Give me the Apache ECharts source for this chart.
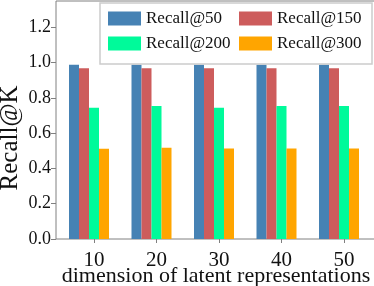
<!DOCTYPE html>
<html><head><meta charset="utf-8">
<script src="https://cdn.jsdelivr.net/npm/echarts@6/dist/echarts.min.js"></script>
<style>html,body{margin:0;padding:0;background:#fff}#c{width:374px;height:286px}</style>
</head><body><div id="c"></div>
<script>
const categories = ['10', '20', '30', '40', '50'];
const seriesNames = ['Recall@50', 'Recall@150', 'Recall@200', 'Recall@300'];
const recall50  = [0.988, 0.988, 0.988, 0.988, 0.988];
const recall150 = [0.968, 0.968, 0.968, 0.968, 0.968];
const recall200 = [0.745, 0.754, 0.745, 0.755, 0.755];
const recall300 = [0.512, 0.518, 0.514, 0.514, 0.514];
const yTicks = [0, 0.2, 0.4, 0.6, 0.8, 1.0, 1.2];
const colors = ['#4682B4', '#CD5C5C', '#00FA9A', '#FFA500'];

const FONT = 'Liberation Serif';
const Y_MAX = 1.35;
const axisGray = '#808080';
const chart = echarts.init(document.getElementById('c'), null, {renderer: 'canvas'});
const values = [recall50, recall150, recall200, recall300];

chart.setOption({
  animation: false,
  textStyle: {fontFamily: FONT},
  grid: [
    {left: 56, top: 1, width: 319, height: 238, show: true, borderColor: axisGray, borderWidth: 1, outerBoundsMode: 'none', containLabel: false},
    {left: 57.75, top: 1, width: 312.5, height: 238, outerBoundsMode: 'none', containLabel: false},
    {left: 62.75, top: 1, width: 312.5, height: 238, outerBoundsMode: 'none', containLabel: false}
  ],
  xAxis: [
    {gridIndex: 0, type: 'value', min: 0, max: 1, show: false},
    {gridIndex: 1, type: 'category', data: categories, show: false},
    {gridIndex: 2, type: 'category', data: categories, position: 'bottom',
     axisLine: {show: true, lineStyle: {color: axisGray, opacity: 0}},
     axisTick: {show: true, alignWithLabel: true, length: 4, lineStyle: {color: axisGray}},
     axisLabel: {fontFamily: FONT, fontSize: 21, color: '#111', margin: 11},
     name: 'dimension of latent representations', nameLocation: 'middle', nameGap: 26,
     nameMoveOverlap: false,
     nameTextStyle: {fontFamily: FONT, fontSize: 22, color: '#111', verticalAlign: 'top', padding: [0, 6, 0, 0]}}
  ],
  yAxis: [
    {gridIndex: 0, type: 'value', min: 0, max: Y_MAX,
     axisLine: {show: false}, splitLine: {show: false},
     axisTick: {show: true, length: 5, customValues: yTicks, lineStyle: {color: axisGray}},
     axisLabel: {fontFamily: FONT, fontSize: 18, color: '#111', margin: 5, customValues: yTicks,
                 formatter: v => v.toFixed(1)},
     name: 'Recall@K', nameLocation: 'middle', nameGap: 33, nameMoveOverlap: false,
     nameTextStyle: {fontFamily: FONT, fontSize: 25, color: '#111', padding: [0, 36, 0, 0]}},
    {gridIndex: 1, type: 'value', min: 0, max: Y_MAX, show: false},
    {gridIndex: 2, type: 'value', min: 0, max: Y_MAX, show: false}
  ],
  legend: {
    left: 100, top: 3, width: 262,
    padding: [7, 10, 12, 8],
    itemWidth: 33, itemHeight: 14, itemGap: 8,
    borderColor: '#cccccc', borderWidth: 1.5, backgroundColor: '#fff',
    icon: 'rect',
    textStyle: {fontFamily: FONT, fontSize: 17, color: '#111', width: 85, lineHeight: 14, padding: [0,0,0,0]},
    data: seriesNames
  },
  series: seriesNames.map((n, i) => ({
    name: n, type: 'bar', xAxisIndex: 1, yAxisIndex: 1,
    data: values[i], barWidth: 10, barGap: '0%',
    itemStyle: {color: colors[i]}
  }))
});
</script></body></html>
